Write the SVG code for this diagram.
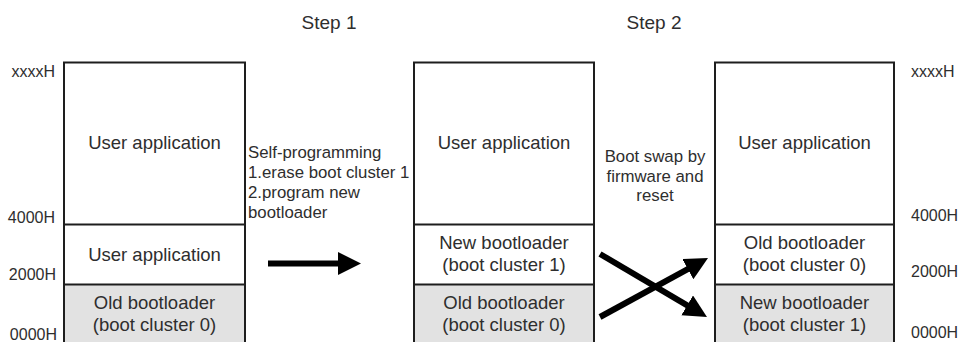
<svg xmlns="http://www.w3.org/2000/svg" width="962" height="342" viewBox="0 0 962 342">
<style>
text{font-family:"Liberation Sans",Arial,sans-serif;fill:#2e2e2e}
.bx{font-size:18.5px;text-anchor:middle}
.lbl{font-size:16px}
.lblL{font-size:16px;text-anchor:end}
.step{font-size:19px;text-anchor:middle}
.note{font-size:16.8px}
.box{fill:#fff;stroke:#1e1e1e;stroke-width:2}
.gray{fill:#e2e2e2;stroke:#1e1e1e;stroke-width:2}
.div{stroke:#1e1e1e;stroke-width:2}
.arr{stroke:#000;stroke-width:6;fill:none;marker-end:url(#ah)}
</style>
<defs>
<marker id="ah" markerUnits="userSpaceOnUse" markerWidth="24" markerHeight="24" refX="2" refY="11.5" orient="auto">
<path d="M0,0 L23,11.5 L0,23 z" fill="#000"/>
</marker>
</defs>
<rect width="962" height="342" fill="#fff"/>
<text class="step" x="329" y="29">Step 1</text>
<text class="step" x="654" y="29">Step 2</text>

<g id="addr-left">
<text class="lblL" x="55" y="77">xxxxH</text>
<text class="lblL" x="55" y="223">4000H</text>
<text class="lblL" x="56" y="280">2000H</text>
<text class="lblL" x="57" y="340">0000H</text>
</g>
<g id="addr-right">
<text class="lbl" x="911" y="77">xxxxH</text>
<text class="lbl" x="911" y="221">4000H</text>
<text class="lbl" x="911" y="277">2000H</text>
<text class="lbl" x="911" y="338">0000H</text>
</g>

<g id="mem1">
<rect class="box" x="64" y="62.5" width="181" height="290"/>
<rect class="gray" x="64" y="284.5" width="181" height="70"/>
<line class="div" x1="64" y1="224.5" x2="245" y2="224.5"/>
<text class="bx" x="154.5" y="149">User application</text>
<text class="bx" x="154.5" y="261">User application</text>
<text class="bx" x="154.5" y="309">Old bootloader</text>
<text class="bx" x="154.5" y="331">(boot cluster 0)</text>
</g>

<g id="mem2">
<rect class="box" x="414" y="62.5" width="180" height="290"/>
<rect class="gray" x="414" y="284.5" width="180" height="70"/>
<line class="div" x1="414" y1="224.5" x2="594" y2="224.5"/>
<text class="bx" x="504" y="149">User application</text>
<text class="bx" x="504" y="249">New bootloader</text>
<text class="bx" x="504" y="271">(boot cluster 1)</text>
<text class="bx" x="504" y="309">Old bootloader</text>
<text class="bx" x="504" y="331">(boot cluster 0)</text>
</g>

<g id="mem3">
<rect class="box" x="715" y="62.5" width="179" height="290"/>
<rect class="gray" x="715" y="284.5" width="179" height="70"/>
<line class="div" x1="715" y1="224.5" x2="894" y2="224.5"/>
<text class="bx" x="804.5" y="149">User application</text>
<text class="bx" x="804.5" y="249">Old bootloader</text>
<text class="bx" x="804.5" y="271">(boot cluster 0)</text>
<text class="bx" x="804.5" y="309">New bootloader</text>
<text class="bx" x="804.5" y="331">(boot cluster 1)</text>
</g>

<g id="note1">
<text class="note" x="248" y="158">Self-programming</text>
<text class="note" x="248" y="178">1.erase boot cluster 1</text>
<text class="note" x="248" y="198">2.program new</text>
<text class="note" x="248" y="218">bootloader</text>
</g>
<g id="note2">
<text class="note" x="655" y="162" text-anchor="middle">Boot swap by</text>
<text class="note" x="655" y="182" text-anchor="middle">firmware and</text>
<text class="note" x="655" y="201" text-anchor="middle">reset</text>
</g>

<g id="connectors">
<line class="arr" x1="268" y1="263.5" x2="340" y2="263.5"/>
<line class="arr" x1="600" y1="254" x2="688.9" y2="306.4"/>
<line class="arr" x1="600" y1="317" x2="689.6" y2="268.1"/>
</g>
</svg>
